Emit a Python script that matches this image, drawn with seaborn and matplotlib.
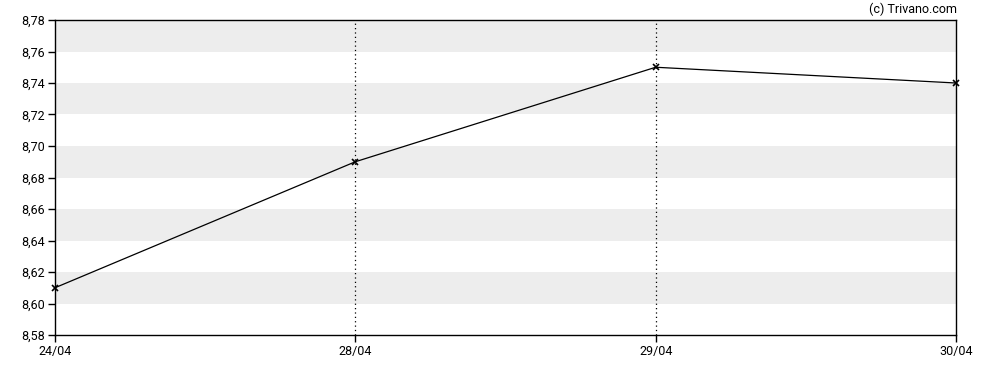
import matplotlib
matplotlib.use("Agg")
import matplotlib.pyplot as plt
import seaborn as sns
import pandas as pd
import numpy as np

dates = ["24/04", "28/04", "29/04", "30/04"]
prices = [8.61, 8.69, 8.75, 8.74]
y_ticks = [8.58, 8.60, 8.62, 8.64, 8.66, 8.68, 8.70, 8.72, 8.74, 8.76, 8.78]
band_starts = [8.60, 8.64, 8.68, 8.72, 8.76]

sns.set_style("white")
plt.rcParams['font.family'] = ['Roboto', 'DejaVu Sans']

df = pd.DataFrame({"pos": np.arange(len(dates)), "price": prices})

fig = plt.figure(figsize=(9.88, 3.70), dpi=100)
ax = fig.add_axes([55/988, 35/370, 901/988, 315/370])

for b in band_starts:
    ax.axhspan(b, b + 0.02, color="#ededed", lw=0, zorder=0)

for i in range(1, len(dates) - 1):
    ax.axvline(i, color="black", lw=0.9, ls=(0, (1, 2.5)), zorder=1)

sns.lineplot(data=df, x="pos", y="price", ax=ax, color="black", lw=0.9,
             marker="x", markersize=4, markeredgewidth=1.2, markeredgecolor="black", zorder=3)
for ln in ax.lines:
    ln.set_clip_on(False)

ax.set_xlim(0, len(dates) - 1)
ax.set_ylim(8.58, 8.78)
ax.set_yticks(y_ticks)
ax.set_yticklabels([f"{v:.2f}".replace(".", ",") for v in y_ticks])
ax.set_xticks(range(len(dates)))
ax.set_xticklabels(dates)
ax.set_xlabel("")
ax.set_ylabel("")
ax.tick_params(axis="both", which="both", direction="out", length=5, width=1,
               color="black", labelsize=9, labelcolor="black", pad=2,
               left=True, bottom=True)
for s in ax.spines.values():
    s.set_color("black")
    s.set_linewidth(1)
    s.set_visible(True)
ax.grid(False)

fig.text(957/988, 1 - 9/370, "(c) Trivano.com", ha="right", va="center", fontsize=9, color="black")

fig.savefig("out.png", dpi=100)
